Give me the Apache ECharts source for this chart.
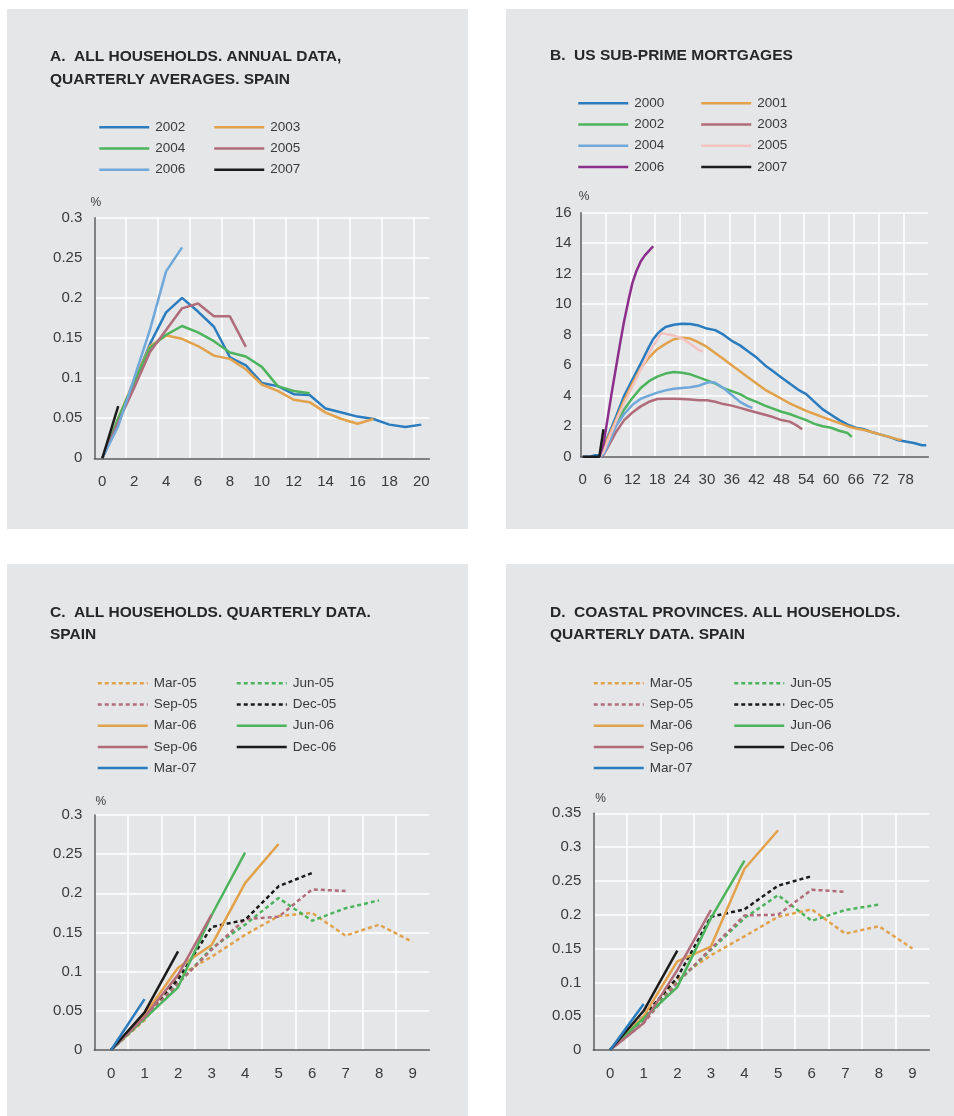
<!DOCTYPE html>
<html><head><meta charset="utf-8">
<script src="https://cdn.jsdelivr.net/npm/echarts@6/dist/echarts.min.js"></script>
<style>html,body{margin:0;padding:0;background:#fff}#c{width:954px;height:1116px}</style>
</head><body><div id="c"></div>
<script>
// ---------- Panel A: annual data, categories 0..20 ----------
const catsA = ['0','1','2','3','4','5','6','7','8','9','10','11','12','13','14','15','16','17','18','19','20'];
const a2002 = [0, 0.045, 0.095, 0.143, 0.182, 0.2, 0.183, 0.164, 0.126, 0.116, 0.094, 0.09, 0.08, 0.079, 0.062, 0.057, 0.052, 0.049, 0.042, 0.039, 0.042];
const a2003 = [0, 0.05, 0.097, 0.14, 0.153, 0.149, 0.14, 0.128, 0.124, 0.111, 0.092, 0.084, 0.073, 0.07, 0.057, 0.049, 0.043, 0.049];
const a2004 = [0, 0.05, 0.095, 0.138, 0.154, 0.165, 0.157, 0.146, 0.132, 0.127, 0.114, 0.09, 0.084, 0.081];
const a2005 = [0, 0.045, 0.088, 0.133, 0.16, 0.187, 0.193, 0.177, 0.177, 0.139];
const a2006 = [0, 0.04, 0.1, 0.161, 0.233, 0.263];
const a2007 = [0, 0.065];

// ---------- Panel B: US sub-prime, months 0..83 ([month, %]) ----------
const catsB = Array.from({length: 84}, (_, i) => String(i));
const b2000 = [[0,0],[1,0],[2,0.02],[3,0.1],[4,0.1],[5,0.4],[6,1.3],[8,2.6],[10,4.0],[12,5.05],[14,6.1],[16,7.2],[17,7.7],[18,8.05],[19,8.3],[20,8.5],[22,8.65],[24,8.72],[26,8.7],[28,8.6],[30,8.4],[32,8.3],[34,8.0],[36,7.6],[38,7.3],[40,6.9],[42,6.5],[44,6.0],[46,5.6],[48,5.2],[50,4.8],[52,4.4],[54,4.1],[56,3.6],[58,3.1],[60,2.75],[62,2.4],[64,2.1],[66,1.9],[68,1.8],[70,1.6],[72,1.45],[74,1.3],[76,1.1],[78,1.0],[80,0.9],[82,0.75],[83,0.75]];
const b2001 = [[4,0],[5,0.3],[6,1.2],[8,2.4],[10,3.7],[12,4.8],[14,5.8],[16,6.5],[18,7.05],[20,7.4],[22,7.7],[24,7.8],[26,7.75],[28,7.5],[30,7.2],[32,6.8],[34,6.4],[36,6.0],[38,5.6],[40,5.2],[42,4.8],[44,4.4],[46,4.1],[48,3.8],[50,3.5],[52,3.25],[54,3.0],[56,2.8],[58,2.6],[60,2.4],[62,2.2],[64,2.0],[66,1.85],[68,1.75],[70,1.6],[72,1.45],[74,1.3],[76,1.15],[77,1.1]];
const b2002 = [[4,0],[5,0.2],[6,0.9],[8,2.1],[10,3.1],[12,3.85],[14,4.5],[16,4.95],[18,5.25],[20,5.45],[22,5.55],[24,5.5],[26,5.4],[28,5.2],[30,5.0],[32,4.8],[34,4.5],[36,4.3],[38,4.1],[40,3.8],[42,3.6],[44,3.35],[46,3.15],[48,2.95],[50,2.8],[52,2.6],[54,2.4],[56,2.15],[58,2.0],[60,1.9],[62,1.7],[64,1.55],[65,1.3]];
const b2003 = [[4,0],[5,0.1],[6,0.6],[8,1.6],[10,2.4],[12,2.9],[14,3.3],[16,3.6],[18,3.78],[20,3.8],[22,3.8],[24,3.78],[26,3.75],[28,3.7],[30,3.7],[32,3.6],[34,3.45],[36,3.35],[38,3.2],[40,3.05],[42,2.9],[44,2.75],[46,2.6],[48,2.4],[50,2.3],[51,2.15],[52,2.0],[53,1.8]];
const b2004 = [[4,0],[5,0.15],[6,0.7],[8,2.0],[10,2.8],[12,3.4],[14,3.8],[16,4.0],[18,4.2],[20,4.35],[22,4.45],[24,4.5],[26,4.55],[28,4.65],[30,4.85],[31,4.9],[32,4.85],[34,4.5],[36,4.05],[38,3.6],[40,3.3],[41,3.2]];
const b2005 = [[4,0],[5,0.3],[6,1.0],[8,2.3],[10,3.5],[12,4.6],[14,5.7],[16,6.8],[18,7.7],[19,8.1],[20,8.05],[22,7.95],[24,7.75],[26,7.4],[28,7.0],[29,6.9]];
const b2006 = [[4,0],[5,0.8],[6,2.5],[7,4.2],[8,5.8],[9,7.4],[10,8.9],[11,10.2],[12,11.4],[13,12.2],[14,12.8],[15,13.2],[16,13.5],[17,13.8]];
const b2007 = [[0,0],[1,0],[2,0],[3,0],[4,0],[5,1.8]];

// ---------- Panel C: all households, quarterly data ----------
const catsCD = ['0','1','2','3','4','5','6','7','8','9'];
const cMar05 = [0, 0.038, 0.094, 0.119, 0.147, 0.171, 0.175, 0.146, 0.16, 0.138];
const cJun05 = [0, 0.04, 0.085, 0.13, 0.16, 0.194, 0.165, 0.181, 0.191];
const cSep05 = [0, 0.04, 0.085, 0.128, 0.167, 0.17, 0.205, 0.203];
const cDec05 = [0, 0.045, 0.09, 0.157, 0.166, 0.209, 0.226];
const cMar06 = [0, 0.045, 0.105, 0.134, 0.213, 0.263];
const cJun06 = [0, 0.04, 0.08, 0.172, 0.252];
const cSep06 = [0, 0.042, 0.096, 0.173];
const cDec06 = [0, 0.048, 0.126];
const cMar07 = [0, 0.065];

// ---------- Panel D: coastal provinces, quarterly data ----------
const dMar05 = [0, 0.045, 0.106, 0.14, 0.168, 0.197, 0.208, 0.172, 0.183, 0.15];
const dJun05 = [0, 0.045, 0.1, 0.148, 0.195, 0.229, 0.191, 0.207, 0.215];
const dSep05 = [0, 0.04, 0.1, 0.15, 0.199, 0.2, 0.237, 0.234];
const dDec05 = [0, 0.05, 0.107, 0.197, 0.208, 0.243, 0.257];
const dMar06 = [0, 0.05, 0.131, 0.153, 0.268, 0.325];
const dJun06 = [0, 0.047, 0.093, 0.195, 0.28];
const dSep06 = [0, 0.04, 0.118, 0.207];
const dDec06 = [0, 0.058, 0.147];
const dMar07 = [0, 0.068];

const titles = [
  'A.  ALL HOUSEHOLDS. ANNUAL DATA,\nQUARTERLY AVERAGES. SPAIN',
  'B.  US SUB-PRIME MORTGAGES',
  'C.  ALL HOUSEHOLDS. QUARTERLY DATA.\nSPAIN',
  'D.  COASTAL PROVINCES. ALL HOUSEHOLDS.\nQUARTERLY DATA. SPAIN'
];

// ---------- styling ----------
const FONT = '"Liberation Sans", Arial, Helvetica, sans-serif';
const PANEL_BG = '#e5e6e8';
const AX = '#58585a';
const TXT = '#3a3a3a';
const COL = {
  blue: '#2a7cbf', orange: '#e2a14b', green: '#4db45d', mauve: '#b06c7a',
  lblue: '#70a8da', black: '#1b1b1b', purple: '#8c2f8c', pink: '#f4c3c1'
};
const DASH = [4, 3];

const chart = echarts.init(document.getElementById('c'), null, {renderer: 'canvas', width: 954, height: 1116});

const grids = [
  {left: 94.3, top: 217.7, width: 335, height: 240.6},
  {left: 580.7, top: 212.7, width: 347.6, height: 244},
  {left: 94.3, top: 815, width: 335, height: 235},
  {left: 593.3, top: 813.3, width: 336, height: 236.7}
].map(g => Object.assign({containLabel: false, outerBoundsMode: 'none', show: false}, g));

function xAx(gi, cats, interval) {
  return {
    gridIndex: gi, type: 'category', data: cats, boundaryGap: true,
    axisTick: {show: false},
    axisLine: {show: true, lineStyle: {color: AX, width: 1.5}},
    axisLabel: {interval: interval, margin: 16, fontSize: 15, color: TXT, fontFamily: FONT},
    splitLine: {show: true, interval: interval, showMaxLine: false, lineStyle: {color: '#ffffff', width: 1.5}}
  };
}
function yAx(gi, max, interval, margin, nameGap, dx) {
  return {
    gridIndex: gi, type: 'value', min: 0, max: max, interval: interval,
    name: '%', nameLocation: 'end', nameGap: nameGap,
    nameTextStyle: {fontSize: 12, color: TXT, fontFamily: FONT, align: 'center', verticalAlign: 'middle', padding: [0, 0, 0, dx * 2]},
    axisTick: {show: false},
    axisLine: {show: true, lineStyle: {color: AX, width: 1.5}},
    axisLabel: {margin: margin, fontSize: 15, color: TXT, fontFamily: FONT},
    splitLine: {show: true, lineStyle: {color: '#ffffff', width: 1.5}}
  };
}

function ser(gi, name, data, color, dashed, z) {
  return {
    type: 'line', name: name, xAxisIndex: gi, yAxisIndex: gi, data: data,
    symbol: 'none', showSymbol: false, silent: true, z: z || 2,
    lineStyle: {color: color, width: 2.5, type: dashed ? DASH : 'solid'},
    itemStyle: {color: color},
    emphasis: {disabled: true}
  };
}

const series = [
  ser(0, 'A|2002', a2002, COL.blue),
  ser(0, 'A|2003', a2003, COL.orange),
  ser(0, 'A|2004', a2004, COL.green),
  ser(0, 'A|2005', a2005, COL.mauve),
  ser(0, 'A|2006', a2006, COL.lblue),
  ser(0, 'A|2007', a2007, COL.black),

  ser(1, 'B|2000', b2000, COL.blue),
  ser(1, 'B|2001', b2001, COL.orange),
  ser(1, 'B|2002', b2002, COL.green),
  ser(1, 'B|2003', b2003, COL.mauve),
  ser(1, 'B|2004', b2004, COL.lblue),
  ser(1, 'B|2005', b2005, COL.pink),
  ser(1, 'B|2006', b2006, COL.purple),
  ser(1, 'B|2007', b2007, COL.black),

  ser(2, 'C|Mar-05', cMar05, COL.orange, true),
  ser(2, 'C|Jun-05', cJun05, COL.green, true),
  ser(2, 'C|Sep-05', cSep05, COL.mauve, true),
  ser(2, 'C|Dec-05', cDec05, COL.black, true),
  ser(2, 'C|Mar-06', cMar06, COL.orange),
  ser(2, 'C|Jun-06', cJun06, COL.green),
  ser(2, 'C|Sep-06', cSep06, COL.mauve),
  ser(2, 'C|Dec-06', cDec06, COL.black),
  ser(2, 'C|Mar-07', cMar07, COL.blue),

  ser(3, 'D|Mar-05', dMar05, COL.orange, true),
  ser(3, 'D|Jun-05', dJun05, COL.green, true),
  ser(3, 'D|Sep-05', dSep05, COL.mauve, true),
  ser(3, 'D|Dec-05', dDec05, COL.black, true),
  ser(3, 'D|Mar-06', dMar06, COL.orange),
  ser(3, 'D|Jun-06', dJun06, COL.green),
  ser(3, 'D|Sep-06', dSep06, COL.mauve),
  ser(3, 'D|Dec-06', dDec06, COL.black),
  ser(3, 'D|Mar-07', dMar07, COL.blue)
];

function leg(names, left, top) {
  return {
    data: names, left: left, top: top, orient: 'vertical', padding: 0,
    itemWidth: 50, itemHeight: 14, itemGap: 7.2, selectedMode: false,
    itemStyle: {opacity: 0},
    lineStyle: {width: 2.5},
    textStyle: {fontSize: 13.5, color: TXT, fontFamily: FONT, lineHeight: 14, padding: [0, 0, 0, 1]},
    formatter: n => n.split('|')[1]
  };
}

const legends = [
  leg(['A|2002', 'A|2004', 'A|2006'], 98, 120.3),
  leg(['A|2003', 'A|2005', 'A|2007'], 213, 120.3),
  leg(['B|2000', 'B|2002', 'B|2004', 'B|2006'], 577, 96.3),
  leg(['B|2001', 'B|2003', 'B|2005', 'B|2007'], 700, 96.3),
  leg(['C|Mar-05', 'C|Sep-05', 'C|Mar-06', 'C|Sep-06', 'C|Mar-07'], 96.5, 676.3),
  leg(['C|Jun-05', 'C|Dec-05', 'C|Jun-06', 'C|Dec-06'], 235.5, 676.3),
  leg(['D|Mar-05', 'D|Sep-05', 'D|Mar-06', 'D|Sep-06', 'D|Mar-07'], 592.5, 676.3),
  leg(['D|Jun-05', 'D|Dec-05', 'D|Jun-06', 'D|Dec-06'], 733, 676.3)
];

const titleOpts = [[50, 45.5], [550, 44.8], [50, 601.3], [550, 601.3]].map((p, i) => ({
  text: titles[i], left: p[0], top: p[1], padding: 0,
  textStyle: {fontSize: 15.5, fontWeight: 'bold', color: '#262626', fontFamily: FONT, lineHeight: 22.5}
}));

const panels = [[7, 9, 461, 520], [506, 9, 448, 520], [7, 564, 461, 552], [506, 564, 448, 552]];

chart.setOption({
  backgroundColor: '#ffffff',
  animation: false,
  graphic: panels.map(p => ({type: 'rect', shape: {x: p[0], y: p[1], width: p[2], height: p[3]}, style: {fill: PANEL_BG}, z: -10, silent: true})),
  title: titleOpts,
  legend: legends,
  grid: grids,
  xAxis: [xAx(0, catsA, 1), xAx(1, catsB, 5), xAx(2, catsCD, 0), xAx(3, catsCD, 0)],
  yAxis: [yAx(0, 0.3, 0.05, 12, 15, 1.5), yAx(1, 16, 2, 9, 16, 3.5), yAx(2, 0.3, 0.05, 12, 13.3, 6.5), yAx(3, 0.35, 0.05, 12, 15, 7.3)],
  series: series
});
</script></body></html>
